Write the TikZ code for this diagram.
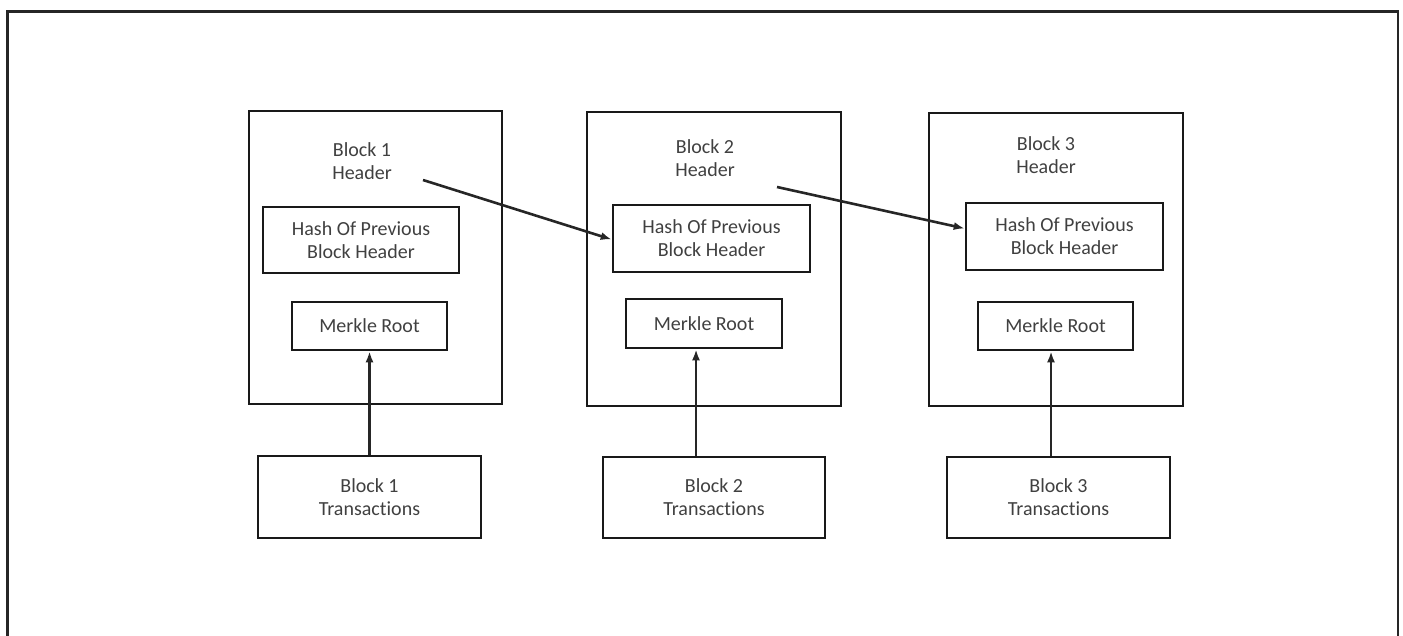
\documentclass[tikz,border=0pt]{standalone}
\usepackage{fontspec}
\setmainfont[Ligatures={NoCommon}]{Carlito}
\usetikzlibrary{arrows.meta}
\begin{document}
\begin{tikzpicture}[x=1pt,y=-1pt,
  box/.style={draw=black!90, line width=2.6pt, minimum width=#1, inner sep=0pt},
  lbl/.style={text=black!75, font=\fontsize{20}{23}\selectfont, align=center, inner sep=0pt},
  link/.style={draw=black!85, line width=2.6pt, -{Latex[length=11pt,width=8pt]}}]
\useasboundingbox (0,0) rectangle (1403,636);
% outer frame
\draw[line width=2.4pt, black!85] (7.5,650) -- (7.5,11.5) -- (1398,11.5) -- (1398,650);
% Block 1
\node[box=253pt, minimum height=293pt] (b1) at (375.5,257.5) {};
\node[lbl] (hd1) at (362,161.5) {Block 1\\Header};
\node[box=196pt, minimum height=66pt, lbl] (hash1) at (361,240) {Hash Of Previous\\Block Header};
\node[box=155pt, minimum height=48pt, lbl] (mr1) at (369.5,326) {Merkle Root};
\node[box=223pt, minimum height=82pt, lbl] (tx1) at (369.5,497) {Block 1\\Transactions};
% Block 2
\node[box=254pt, minimum height=294pt] (b2) at (714,259) {};
\node[lbl] (hd2) at (705,158.5) {Block 2\\Header};
\node[box=197pt, minimum height=67pt, lbl] (hash2) at (711.5,238.5) {Hash Of Previous\\Block Header};
\node[box=156pt, minimum height=49pt, lbl] (mr2) at (704,323.5) {Merkle Root};
\node[box=222pt, minimum height=81pt, lbl] (tx2) at (714,497.5) {Block 2\\Transactions};
% Block 3
\node[box=254pt, minimum height=293pt] (b3) at (1056,259.5) {};
\node[lbl] (hd3) at (1046,155) {Block 3\\Header};
\node[box=197pt, minimum height=67pt, lbl] (hash3) at (1064.5,236.5) {Hash Of Previous\\Block Header};
\node[box=155pt, minimum height=48pt, lbl] (mr3) at (1055.5,326) {Merkle Root};
\node[box=223pt, minimum height=81pt, lbl] (tx3) at (1058.5,497.5) {Block 3\\Transactions};
% header link starts
\coordinate (s1) at (423,180);
\coordinate (s2) at (777,187);
% connectors
\draw[link] (s1) -- ([yshift=-1pt]hash2.west);
\draw[link] (s2) -- ([yshift=8pt]hash3.west);
\draw[link] (tx1.north) -- (mr1.south);
\draw[link] ([xshift=-18pt]tx2.north) -- ([xshift=-8pt]mr2.south);
\draw[link] ([xshift=-7.5pt]tx3.north) -- ([xshift=-4.5pt]mr3.south);
\end{tikzpicture}
\end{document}
